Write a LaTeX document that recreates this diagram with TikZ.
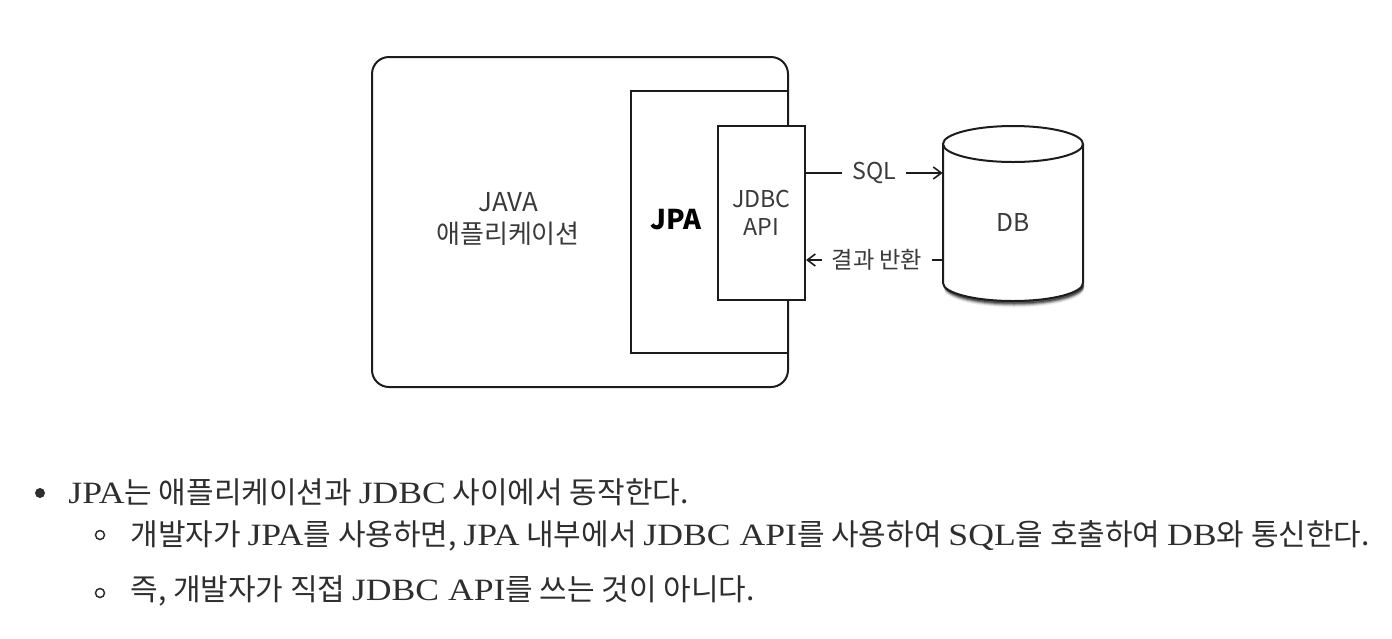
\documentclass[tikz,border=0pt]{standalone}
\usepackage{fontspec}
\usepackage{xcolor}
\usetikzlibrary{arrows.meta}
\setmainfont{Liberation Serif}[FakeStretch=1.15]
\newfontfamily\krfont{Noto Sans CJK KR}
\newcommand{\kr}[1]{{\krfont\fontsize{15}{18}\selectfont #1}}
\definecolor{inkgray}{HTML}{2E2E2E}
\definecolor{figgray}{HTML}{3A3A3A}
\definecolor{linegray}{HTML}{1C1C1C}

\tikzset{
  box/.style={draw=linegray, line width=1pt, fill=white},
  figtext/.style={font=\krfont\fontsize{11.6}{14}\selectfont, text=figgray, align=center, inner sep=0pt},
  flow/.style={draw=linegray, line width=0.8pt},
  flowarrow/.style={flow, -{Straight Barb[length=4pt,width=6pt]}},
  bullettext/.style={anchor=base west, inner sep=0pt, text=inkgray, font=\fontsize{15.5}{18}\selectfont},
  fulldot/.style={circle, fill=inkgray, inner sep=0pt, minimum size=5pt},
  opendot/.style={circle, draw=inkgray, line width=0.75pt, inner sep=0pt, minimum size=4.5pt},
}

\begin{document}
\begin{tikzpicture}[x=0.5pt,y=-0.5pt]
\useasboundingbox (0,0) rectangle (1392,638);

\node[box, rounded corners=8.5pt, minimum width=208pt, minimum height=165pt, inner sep=0pt] (app) at (580,222) {};
\node[box, minimum width=78.5pt, minimum height=131pt, inner sep=0pt] (jpabox) at (709.5,222) {};
\node[box, minimum width=43.5pt, minimum height=87pt, inner sep=0pt, figtext] (jdbc) at (761.5,213) {JDBC\\API};
\node[figtext, font=\krfont\fontsize{13}{16}\selectfont] (java) at (508,219) {JAVA\\애플리케이션};
\node[figtext, font=\krfont\bfseries\fontsize{13.6}{16}\selectfont, text=black] (jpa) at (676,220) {JPA};

\foreach \s/\o in {1/0.45, 2/0.32, 3/0.2, 4/0.11, 5/0.05}
  \draw[black, opacity=\o, line width=1.5pt] (945,283+\s) arc[start angle=180, end angle=360, x radius=34.5pt, y radius=9pt];
\fill[white] (943,144) -- (943,283) arc[start angle=180, end angle=360, x radius=35pt, y radius=9pt]
  -- (1083,144) arc[start angle=0, end angle=180, x radius=35pt, y radius=9pt] -- cycle;
\draw[box] (943,144) -- (943,283) arc[start angle=180, end angle=360, x radius=35pt, y radius=9pt] -- (1083,144);
\draw[box] (1013,144) ellipse[x radius=35pt, y radius=9pt];
\node[figtext, font=\krfont\fontsize{12.3}{15}\selectfont, minimum width=70pt] (db) at (1013,222) {DB};

\node[figtext, inner xsep=5pt] (sql) at (874,173) {SQL};
\draw[flow] (jdbc.east |- sql) -- (sql.west);
\draw[flowarrow] (sql.east) -- (sql.east -| db.west);
\node[figtext, inner xsep=4.5pt] (ret) at (877,260) {결과 반환};
\draw[flow] (ret.east -| db.west) -- (ret.east);
\draw[flowarrow] (ret.west) -- (ret.west -| jdbc.east);

\node[fulldot] (dot1) at (40,493) {};
\node[bullettext] (line1) at (68,503) {JPA\kr{는 애플리케이션과 }JDBC\kr{ 사이에서 동작한다.}};
\node[opendot] (dot2) at (100,535) {};
\node[bullettext] (line2) at (130,545) {\kr{개발자가 }JPA\kr{를 사용하면, }JPA\kr{ 내부에서 }JDBC API\kr{를 사용하여 }SQL\kr{을 호출하여 }DB\kr{와 통신한다.}};
\node[opendot] (dot3) at (100,593) {};
\node[bullettext] (line3) at (130,600) {\kr{즉, 개발자가 직접 }JDBC API\kr{를 쓰는 것이 아니다.}};
\end{tikzpicture}
\end{document}
